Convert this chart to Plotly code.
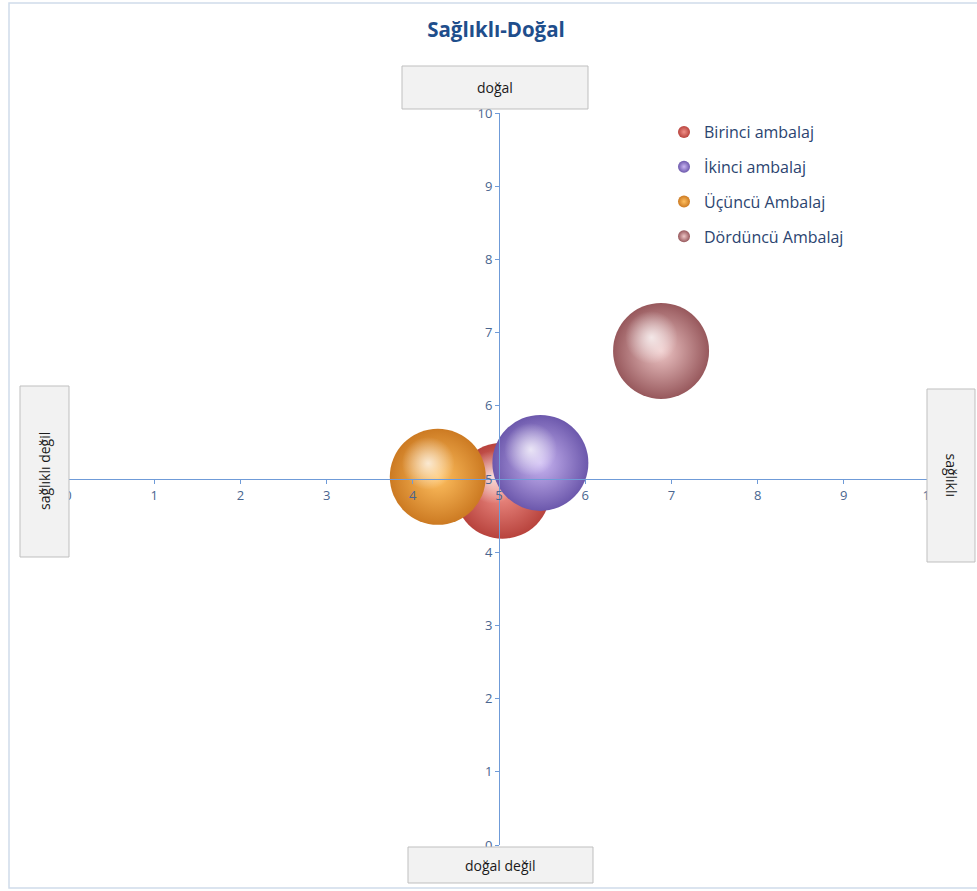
import plotly.graph_objects as go

# Perceptual map: "sağlıklı" (healthy) on x, "doğal" (natural) on y
ambalajlar = ["Birinci ambalaj", "İkinci ambalaj", "Üçüncü Ambalaj", "Dördüncü Ambalaj"]
saglikli = [5.04, 5.48, 4.29, 6.88]
dogal = [4.84, 5.22, 5.03, 6.75]
buyukluk = [1, 1, 1, 1]
eksen_degerleri = list(range(0, 11))

# sphere shading: (rim colour, body colour)
renkler = [
    ("#B8433D", "#F09088"),
    ("#6C58AC", "#CAB6F2"),
    ("#CC7A22", "#FFC060"),
    ("#97585C", "#EEC6C6"),
]

W, H = 977, 891
L, R, T, B = 68, 930, 113, 845
PW, PH = R - L, B - T
UX, UY = PW / 10.0, PH / 10.0
DIAM = 96
FONT = "Open Sans, Lato, sans-serif"


def px(x):
    return (x - L) / PW


def py(y):
    return (B - y) / PH


fig = go.Figure()

for ad, x, y, s, (kenar, govde) in zip(ambalajlar, saglikli, dogal, buyukluk, renkler):
    fig.add_trace(go.Scatter(
        x=[x], y=[y], mode="markers", name=ad,
        marker=dict(
            size=[s], sizemode="diameter", sizeref=max(buyukluk) / DIAM,
            color=kenar, line=dict(width=0), opacity=1,
            gradient=dict(type="radial", color=govde),
        ),
        hoverinfo="name",
    ))
    # soft specular highlight, up and to the left of the sphere centre
    r = s / max(buyukluk) * DIAM / 2
    fig.add_trace(go.Scatter(
        x=[x - 0.2 * r / UX], y=[y + 0.28 * r / UY], mode="markers",
        showlegend=False, hoverinfo="skip",
        marker=dict(
            size=[s], sizemode="diameter", sizeref=max(buyukluk) / (DIAM * 0.55),
            color="rgba(255,255,255,0)", line=dict(width=0), opacity=1,
            gradient=dict(type="radial", color="rgba(255,255,255,0.75)"),
        ),
    ))

eksen = dict(
    range=[0, 10], tickvals=eksen_degerleri, ticktext=[str(v) for v in eksen_degerleri],
    showgrid=False, zeroline=False, showline=True, linecolor="#6F9BD8", linewidth=1,
    ticks="outside", ticklen=4, tickcolor="#6F9BD8",
    tickfont=dict(family=FONT, size=13, color="#4A6690"),
    anchor="free", position=0.5, fixedrange=True,
)

kutular = [
    ("doğal", 402, 66, 588, 109, 0),
    ("doğal değil", 408, 847, 593, 883, 0),
    ("sağlıklı değil", 20, 386, 69, 557, -90),
    ("sağlıklı", 927, 389, 975, 562, 90),
]
shapes = [dict(type="rect", xref="paper", yref="paper",
               x0=px(9), x1=px(990), y0=py(3), y1=py(888),
               line=dict(color="#D0DCEA", width=1.5), fillcolor="rgba(0,0,0,0)", layer="below")]
annotations = []
for metin, x0, y0, x1, y1, aci in kutular:
    shapes.append(dict(type="rect", xref="paper", yref="paper",
                       x0=px(x0), x1=px(x1), y0=py(y0), y1=py(y1),
                       line=dict(color="#BFBFBF", width=1), fillcolor="#F2F2F2", layer="above"))
    annotations.append(dict(text=metin, xref="paper", yref="paper",
                            x=px((x0 + x1) / 2), y=py((y0 + y1) / 2),
                            xanchor="center", yanchor="middle", showarrow=False, textangle=aci,
                            font=dict(family=FONT, size=14, color="#1A1A1A")))

fig.update_layout(
    width=W, height=H,
    margin=dict(l=L, r=W - R, t=T, b=H - B),
    paper_bgcolor="white", plot_bgcolor="white",
    xaxis=dict(eksen, side="bottom"),
    yaxis=dict(eksen, side="left"),
    title=dict(text="<b>Sağlıklı-Doğal</b>", x=496 / W, xanchor="center",
               y=1 - 30 / H, yanchor="middle", xref="container", yref="container",
               font=dict(family=FONT, size=20.5, color="#1F4E8C")),
    legend=dict(x=px(664), y=py(115), xanchor="left", yanchor="top",
                font=dict(family=FONT, size=16, color="#2B4470"),
                itemsizing="constant", tracegroupgap=11, bgcolor="rgba(0,0,0,0)",
                itemwidth=30),
    shapes=shapes, annotations=annotations,
    showlegend=True,
)
# put every legend entry in its own group so the spacing between items can be set
for i, tr in enumerate(fig.data):
    tr.legendgroup = str(i)

fig.write_html("out.html")
